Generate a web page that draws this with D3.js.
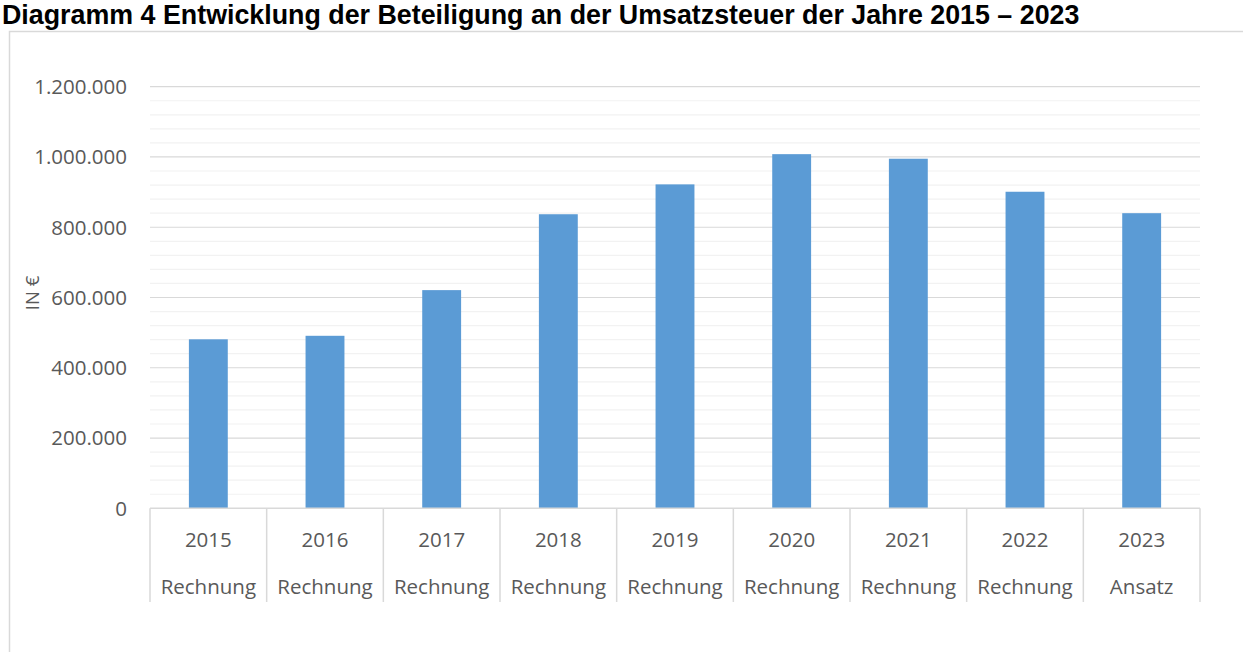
<!DOCTYPE html>
<html>
<head>
<meta charset="utf-8">
<script src="https://cdn.jsdelivr.net/npm/d3@7"></script>
<style>
  body { margin: 0; background: #fff; }
  svg { display: block; }
</style>
</head>
<body>
<div id="chart"></div>
<script>
const years = ["2015", "2016", "2017", "2018", "2019", "2020", "2021", "2022", "2023"];
const kinds = ["Rechnung", "Rechnung", "Rechnung", "Rechnung", "Rechnung", "Rechnung", "Rechnung", "Rechnung", "Ansatz"];
const values = [481000, 491000, 621000, 837000, 922000, 1008000, 995000, 901000, 840000];
const yTicks = [0, 200000, 400000, 600000, 800000, 1000000, 1200000];

const W = 1243, H = 652;
const plotLeft = 150, plotRight = 1200, plotTop = 86.7, plotBottom = 508.3;
const font = "'Open Sans', 'Noto Sans', sans-serif";
const textCol = "#595959";

const svg = d3.select("#chart").append("svg")
  .attr("width", W)
  .attr("height", H);

// chart frame
svg.append("rect")
  .attr("x", 9.5).attr("y", 31.5)
  .attr("width", W + 20).attr("height", H + 20)
  .attr("fill", "none")
  .attr("stroke", "#d9d9d9")
  .attr("stroke-width", 1.5);

// title
const title = svg.append("text")
  .attr("x", 2)
  .attr("y", 24)
  .style("font-family", "'Liberation Sans', Arial, sans-serif")
  .style("font-weight", "bold")
  .style("font-size", "20px")
  .attr("fill", "#000")
  .text("Diagramm 4 Entwicklung der Beteiligung an der Umsatzsteuer der Jahre 2015 \u2013 2023");
const tw = title.node().getComputedTextLength();
title.style("font-size", (20 * 1078 / tw) + "px");

const x = d3.scaleBand()
  .domain(years)
  .range([plotLeft, plotRight])
  .padding(0);

const y = d3.scaleLinear()
  .domain([0, 1200000])
  .range([plotBottom, plotTop]);

// minor gridlines
svg.append("g")
  .selectAll("line")
  .data(d3.range(0, 1200001, 40000).filter(v => v % 200000 !== 0))
  .enter().append("line")
  .attr("x1", plotLeft).attr("x2", plotRight)
  .attr("y1", d => y(d)).attr("y2", d => y(d))
  .attr("stroke", "#f2f2f2")
  .attr("stroke-width", 1.2);

// major gridlines
svg.append("g")
  .selectAll("line")
  .data(yTicks.filter(v => v > 0))
  .enter().append("line")
  .attr("x1", plotLeft).attr("x2", plotRight)
  .attr("y1", d => y(d)).attr("y2", d => y(d))
  .attr("stroke", "#d9d9d9")
  .attr("stroke-width", 1.2);

// y axis labels
const fmt = d3.formatLocale({ decimal: ",", thousands: ".", grouping: [3], currency: ["", " €"] }).format(",d");
svg.append("g")
  .attr("id", "y-axis")
  .selectAll("text")
  .data(yTicks)
  .enter().append("text")
  .attr("x", 127)
  .attr("y", d => y(d))
  .attr("dy", "0.36em")
  .attr("text-anchor", "end")
  .style("font-family", font)
  .style("font-size", "20.5px")
  .attr("fill", textCol)
  .text(d => fmt(d));

svg.append("text")
  .attr("transform", "translate(" + 39 + "," + 293 + ") rotate(-90)")
  .attr("text-anchor", "middle")
  .style("font-family", font)
  .style("font-size", "18.5px")
  .attr("fill", textCol)
  .text("IN €");

// bars
const bw = x.bandwidth() / 3;
svg.append("g")
  .selectAll("rect")
  .data(values)
  .enter().append("rect")
  .attr("x", (d, i) => x(years[i]) + (x.bandwidth() - bw) / 2)
  .attr("y", d => y(d))
  .attr("width", bw)
  .attr("height", d => y(0) - y(d))
  .attr("fill", "#5b9bd5");

// category axis
const xAxis = svg.append("g").attr("id", "x-axis");
xAxis.append("line")
  .attr("x1", plotLeft).attr("x2", plotRight)
  .attr("y1", plotBottom).attr("y2", plotBottom)
  .attr("stroke", "#d9d9d9")
  .attr("stroke-width", 1.5);

xAxis.selectAll(".sep")
  .data(years.concat(["end"]))
  .enter().append("line")
  .attr("class", "sep")
  .attr("x1", (d, i) => plotLeft + i * x.bandwidth())
  .attr("x2", (d, i) => plotLeft + i * x.bandwidth())
  .attr("y1", plotBottom).attr("y2", 602)
  .attr("stroke", "#d9d9d9")
  .attr("stroke-width", 1.5);

xAxis.selectAll(".year")
  .data(years)
  .enter().append("text")
  .attr("class", "year")
  .attr("x", d => x(d) + x.bandwidth() / 2)
  .attr("y", 547)
  .attr("text-anchor", "middle")
  .style("font-family", font)
  .style("font-size", "20.5px")
  .attr("fill", textCol)
  .text(d => d);

xAxis.selectAll(".kind")
  .data(kinds)
  .enter().append("text")
  .attr("class", "kind")
  .attr("x", (d, i) => x(years[i]) + x.bandwidth() / 2)
  .attr("y", 594)
  .attr("text-anchor", "middle")
  .style("font-family", font)
  .style("font-size", "20.5px")
  .attr("fill", textCol)
  .text(d => d);
</script>
</body>
</html>
